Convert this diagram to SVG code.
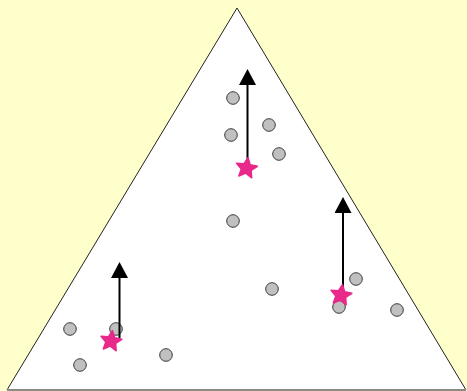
<svg xmlns="http://www.w3.org/2000/svg" width="467" height="391" viewBox="0 0 467 391">
<defs>
<style>
.pt{fill:#c0c0c0;stroke:#3a3a3a;stroke-width:1}
.ar{stroke:#000;stroke-width:2;fill:none}
.st{fill:#e8288a;stroke:#e8288a;stroke-width:1.5;stroke-linejoin:round}
</style>
<marker id="ah" markerWidth="16" markerHeight="17" refX="0" refY="8.5" orient="auto" markerUnits="userSpaceOnUse" viewBox="0 0 16 17">
<path d="M0,0 L16,8.5 L0,17 Z" fill="#000"/>
</marker>
<polygon id="star" points="0,-10.5 3.2,-3.8 10.5,-3.2 5,1.8 6.5,9 0,5.2 -6.5,9 -5,1.8 -10.5,-3.2 -3.2,-3.8"/>
</defs>
<rect width="467" height="391" fill="#ffffcc"/>
<g id="triangle">
<polygon points="237,8 7,390 466,390" fill="#fff" stroke="#222" stroke-width="1"/>
<line x1="7" y1="389.5" x2="466" y2="389.5" stroke="#888" stroke-width="1"/>
</g>
<g id="points">
<circle class="pt" cx="233" cy="98" r="6.3"/>
<circle class="pt" cx="231" cy="135" r="6.3"/>
<circle class="pt" cx="269" cy="125" r="6.3"/>
<circle class="pt" cx="279" cy="154" r="6.3"/>
<circle class="pt" cx="233" cy="221" r="6.3"/>
<circle class="pt" cx="272" cy="289" r="6.3"/>
<circle class="pt" cx="356" cy="279" r="6.3"/>
<circle class="pt" cx="339" cy="307" r="6.3"/>
<circle class="pt" cx="397" cy="310" r="6.3"/>
<circle class="pt" cx="70" cy="329" r="6.3"/>
<circle class="pt" cx="116" cy="329" r="6.3"/>
<circle class="pt" cx="80" cy="365" r="6.3"/>
<circle class="pt" cx="166" cy="355" r="6.3"/>
</g>
<g id="connectors">
<line class="ar" x1="247.5" y1="164" x2="247.5" y2="85" marker-end="url(#ah)"/>
<line class="ar" x1="343" y1="293" x2="343" y2="213" marker-end="url(#ah)"/>
<line class="ar" x1="119.5" y1="338" x2="119.5" y2="278" marker-end="url(#ah)"/>
</g>
<g id="stars">
<use href="#star" class="st" transform="translate(246.5,168) rotate(8)"/>
<use href="#star" class="st" transform="translate(341,295) rotate(8)"/>
<use href="#star" class="st" transform="translate(111,341) rotate(8)"/>
</g>
</svg>
